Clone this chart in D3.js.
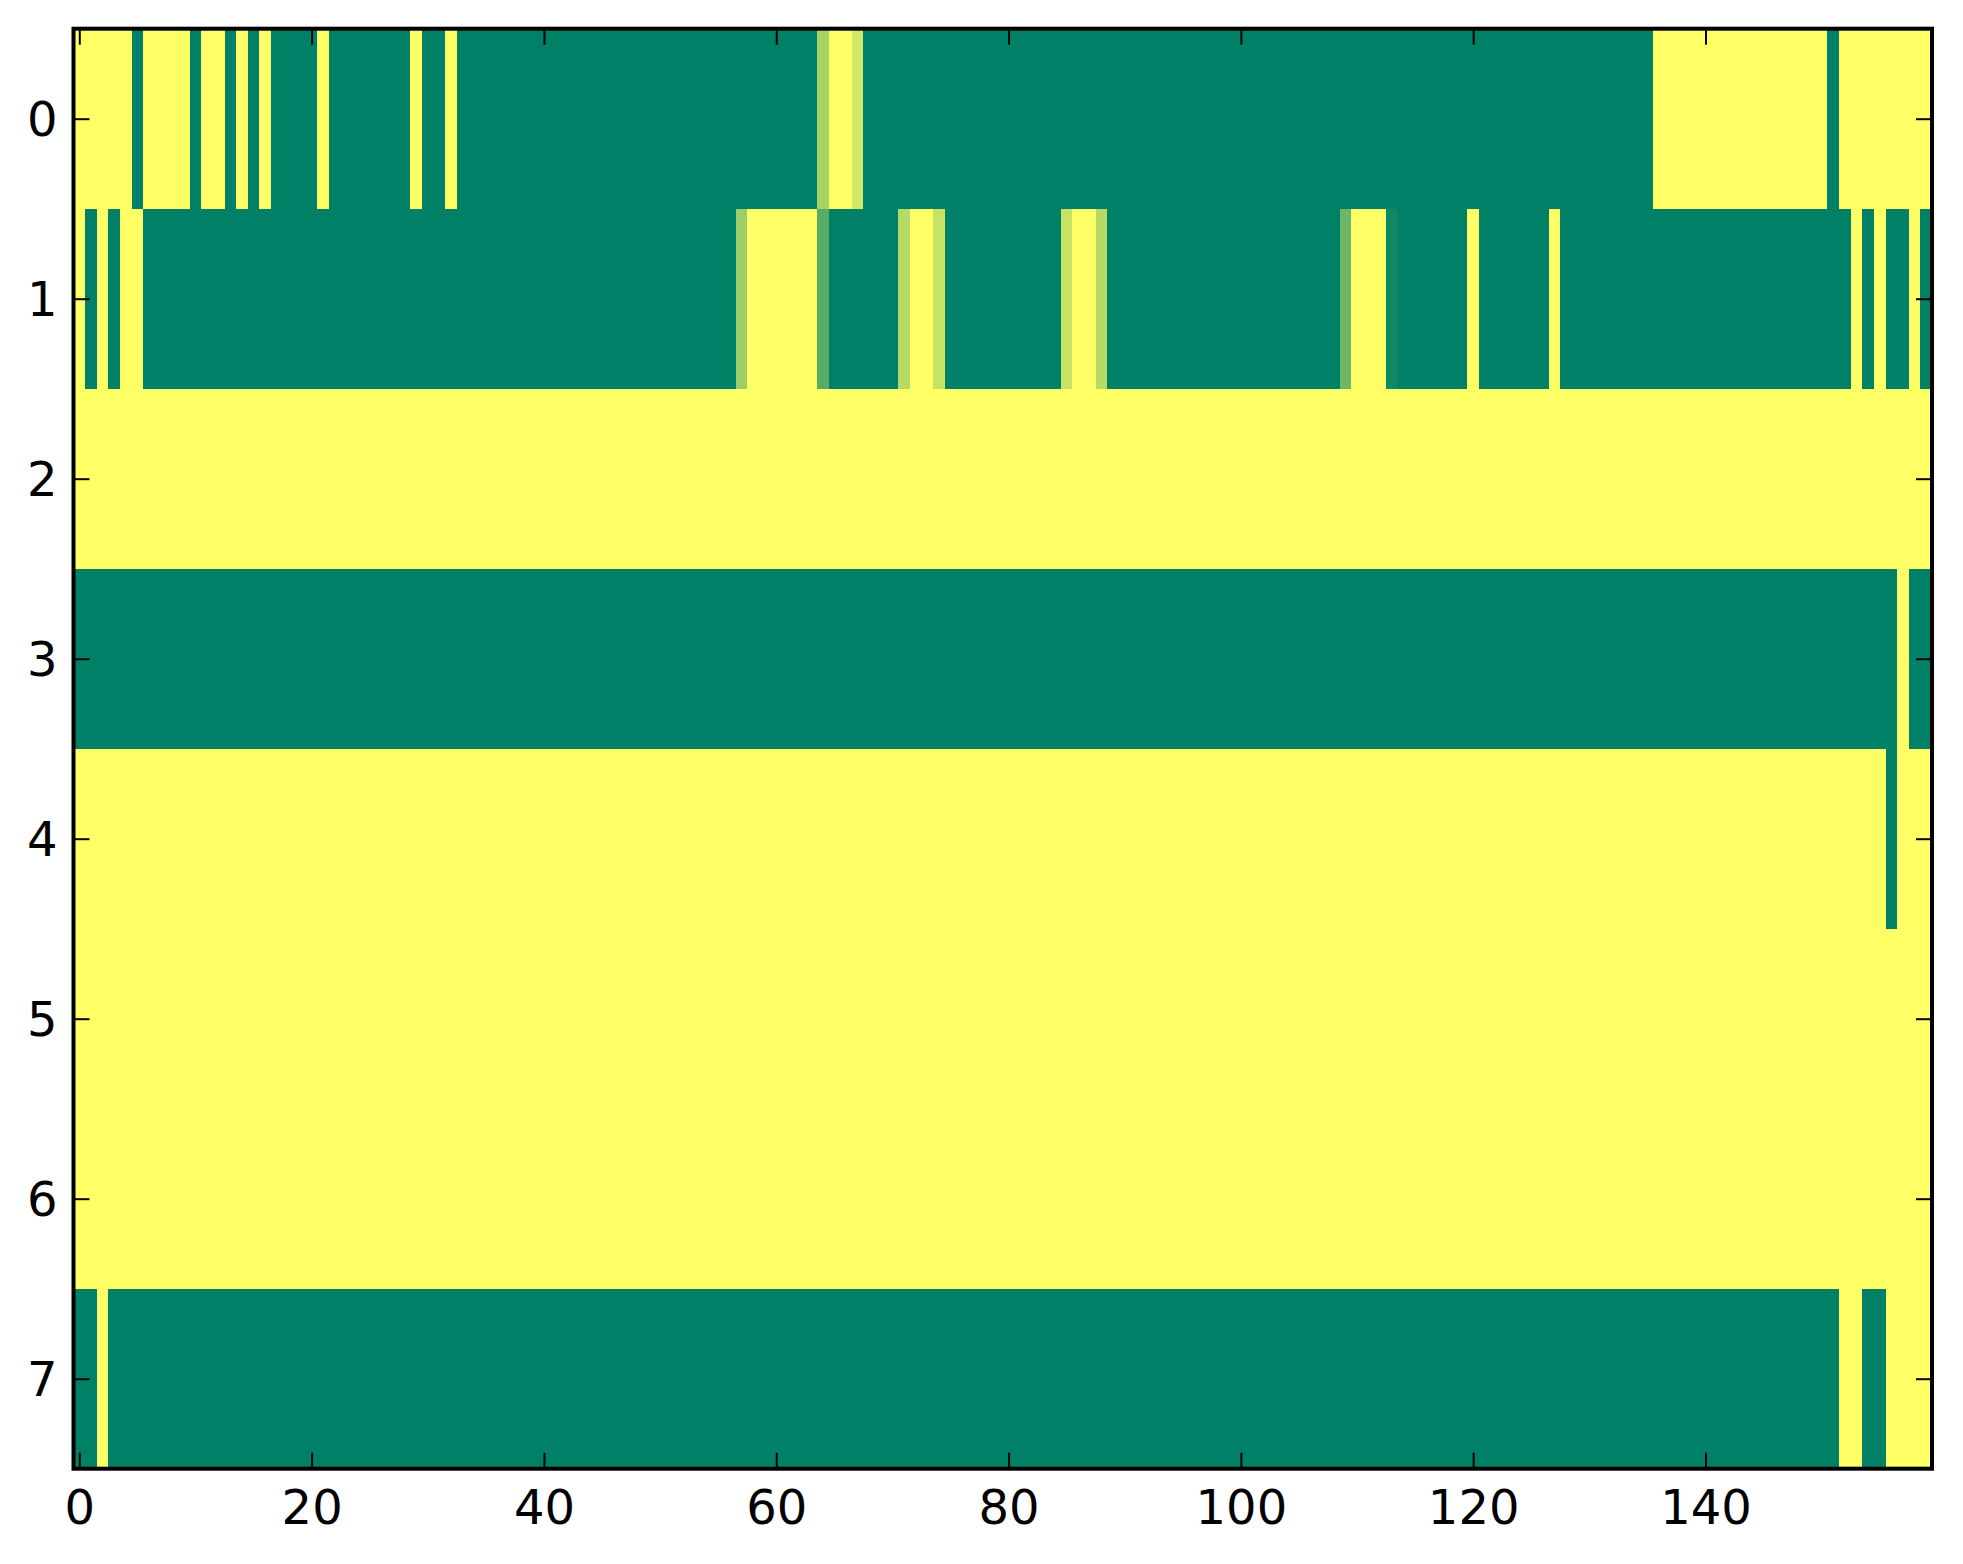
<!DOCTYPE html>
<html>
<head>
<meta charset="utf-8">
<script src="https://cdn.jsdelivr.net/npm/d3@7"></script>
<style>
  html, body { margin: 0; padding: 0; background: #fff; }
  svg { display: block; }
  .tick text { font-family: "DejaVu Sans", sans-serif; font-size: 48px; fill: #000; }
</style>
</head>
<body>
<svg id="chart" width="1963" height="1564"></svg>
<script>
// valores (0 = verde, 1 = amarillo), 160 columnas por fila
var fila0 = [
  1,1,1,1,1,0,1,1,1,1,0,1,1,0,1,0,1,0,0,0,
  0,1,0,0,0,0,0,0,0,1,0,0,1,0,0,0,0,0,0,0,
  0,0,0,0,0,0,0,0,0,0,0,0,0,0,0,0,0,0,0,0,
  0,0,0,0,0.66,1,1,0.83,0,0,0,0,0,0,0,0,0,0,0,0,
  0,0,0,0,0,0,0,0,0,0,0,0,0,0,0,0,0,0,0,0,
  0,0,0,0,0,0,0,0,0,0,0,0,0,0,0,0,0,0,0,0,
  0,0,0,0,0,0,0,0,0,0,0,0,0,0,0,0,1,1,1,1,
  1,1,1,1,1,1,1,1,1,1,1,0,1,1,1,1,1,1,1,1
];
var fila1 = [
  1,0,1,0,1,1,0,0,0,0,0,0,0,0,0,0,0,0,0,0,
  0,0,0,0,0,0,0,0,0,0,0,0,0,0,0,0,0,0,0,0,
  0,0,0,0,0,0,0,0,0,0,0,0,0,0,0,0,0,0.61,1,1,
  1,1,1,1,0.35,0,0,0,0,0,0,0.71,1,1,0.78,0,0,0,0,0,
  0,0,0,0,0,0.78,1,1,0.71,0,0,0,0,0,0,0,0,0,0,0,
  0,0,0,0,0,0,0,0,0,0.43,1,1,1,0.06,0,0,0,0,0,0,
  1,0,0,0,0,0,0,1,0,0,0,0,0,0,0,0,0,0,0,0,
  0,0,0,0,0,0,0,0,0,0,0,0,0,1,0,1,0,0,1,0
];
var fila2 = [
  1,1,1,1,1,1,1,1,1,1,1,1,1,1,1,1,1,1,1,1,
  1,1,1,1,1,1,1,1,1,1,1,1,1,1,1,1,1,1,1,1,
  1,1,1,1,1,1,1,1,1,1,1,1,1,1,1,1,1,1,1,1,
  1,1,1,1,1,1,1,1,1,1,1,1,1,1,1,1,1,1,1,1,
  1,1,1,1,1,1,1,1,1,1,1,1,1,1,1,1,1,1,1,1,
  1,1,1,1,1,1,1,1,1,1,1,1,1,1,1,1,1,1,1,1,
  1,1,1,1,1,1,1,1,1,1,1,1,1,1,1,1,1,1,1,1,
  1,1,1,1,1,1,1,1,1,1,1,1,1,1,1,1,1,1,1,1
];
var fila3 = [
  0,0,0,0,0,0,0,0,0,0,0,0,0,0,0,0,0,0,0,0,
  0,0,0,0,0,0,0,0,0,0,0,0,0,0,0,0,0,0,0,0,
  0,0,0,0,0,0,0,0,0,0,0,0,0,0,0,0,0,0,0,0,
  0,0,0,0,0,0,0,0,0,0,0,0,0,0,0,0,0,0,0,0,
  0,0,0,0,0,0,0,0,0,0,0,0,0,0,0,0,0,0,0,0,
  0,0,0,0,0,0,0,0,0,0,0,0,0,0,0,0,0,0,0,0,
  0,0,0,0,0,0,0,0,0,0,0,0,0,0,0,0,0,0,0,0,
  0,0,0,0,0,0,0,0,0,0,0,0,0,0,0,0,0,1,0,0
];
var fila4 = [
  1,1,1,1,1,1,1,1,1,1,1,1,1,1,1,1,1,1,1,1,
  1,1,1,1,1,1,1,1,1,1,1,1,1,1,1,1,1,1,1,1,
  1,1,1,1,1,1,1,1,1,1,1,1,1,1,1,1,1,1,1,1,
  1,1,1,1,1,1,1,1,1,1,1,1,1,1,1,1,1,1,1,1,
  1,1,1,1,1,1,1,1,1,1,1,1,1,1,1,1,1,1,1,1,
  1,1,1,1,1,1,1,1,1,1,1,1,1,1,1,1,1,1,1,1,
  1,1,1,1,1,1,1,1,1,1,1,1,1,1,1,1,1,1,1,1,
  1,1,1,1,1,1,1,1,1,1,1,1,1,1,1,1,0,1,1,1
];
var fila5 = [
  1,1,1,1,1,1,1,1,1,1,1,1,1,1,1,1,1,1,1,1,
  1,1,1,1,1,1,1,1,1,1,1,1,1,1,1,1,1,1,1,1,
  1,1,1,1,1,1,1,1,1,1,1,1,1,1,1,1,1,1,1,1,
  1,1,1,1,1,1,1,1,1,1,1,1,1,1,1,1,1,1,1,1,
  1,1,1,1,1,1,1,1,1,1,1,1,1,1,1,1,1,1,1,1,
  1,1,1,1,1,1,1,1,1,1,1,1,1,1,1,1,1,1,1,1,
  1,1,1,1,1,1,1,1,1,1,1,1,1,1,1,1,1,1,1,1,
  1,1,1,1,1,1,1,1,1,1,1,1,1,1,1,1,1,1,1,1
];
var fila6 = [
  1,1,1,1,1,1,1,1,1,1,1,1,1,1,1,1,1,1,1,1,
  1,1,1,1,1,1,1,1,1,1,1,1,1,1,1,1,1,1,1,1,
  1,1,1,1,1,1,1,1,1,1,1,1,1,1,1,1,1,1,1,1,
  1,1,1,1,1,1,1,1,1,1,1,1,1,1,1,1,1,1,1,1,
  1,1,1,1,1,1,1,1,1,1,1,1,1,1,1,1,1,1,1,1,
  1,1,1,1,1,1,1,1,1,1,1,1,1,1,1,1,1,1,1,1,
  1,1,1,1,1,1,1,1,1,1,1,1,1,1,1,1,1,1,1,1,
  1,1,1,1,1,1,1,1,1,1,1,1,1,1,1,1,1,1,1,1
];
var fila7 = [
  0,0,1,0,0,0,0,0,0,0,0,0,0,0,0,0,0,0,0,0,
  0,0,0,0,0,0,0,0,0,0,0,0,0,0,0,0,0,0,0,0,
  0,0,0,0,0,0,0,0,0,0,0,0,0,0,0,0,0,0,0,0,
  0,0,0,0,0,0,0,0,0,0,0,0,0,0,0,0,0,0,0,0,
  0,0,0,0,0,0,0,0,0,0,0,0,0,0,0,0,0,0,0,0,
  0,0,0,0,0,0,0,0,0,0,0,0,0,0,0,0,0,0,0,0,
  0,0,0,0,0,0,0,0,0,0,0,0,0,0,0,0,0,0,0,0,
  0,0,0,0,0,0,0,0,0,0,0,0,1,1,0,0,1,1,1,1
];
var filas = [fila0, fila1, fila2, fila3, fila4, fila5, fila6, fila7];

// etiquetas de los ejes
var ticksX = [0, 20, 40, 60, 80, 100, 120, 140];
var ticksY = [0, 1, 2, 3, 4, 5, 6, 7];

var izquierda = 73.5, derecha = 1932, arriba = 28.7, abajo = 1468.7;
var numColumnas = fila0.length;

var x = d3.scaleLinear().domain([-0.5, numColumnas - 0.5]).range([izquierda, derecha]);
var y = d3.scaleLinear().domain([-0.5, filas.length - 0.5]).range([arriba, abajo]);
// mapa de color "summer" de matplotlib
var color = d3.scaleLinear().domain([0, 1]).range(["#008066", "#ffff66"]).interpolate(d3.interpolateRgb);

var svg = d3.select("#chart");

// celdas del mapa de calor
var celdas = [];
filas.forEach(function (fila, i) {
    fila.forEach(function (v, j) {
        celdas.push({ fila: i, col: j, valor: v });
    });
});

svg.append("g")
    .attr("shape-rendering", "crispEdges")
    .selectAll("rect")
    .data(celdas)
    .join("rect")
    .attr("x", function (d) { return x(d.col - 0.5); })
    .attr("y", function (d) { return y(d.fila - 0.5); })
    .attr("width", function (d) { return x(d.col + 0.5) - x(d.col - 0.5) + 0.6; })
    .attr("height", function (d) { return y(d.fila + 0.5) - y(d.fila - 0.5) + 0.6; })
    .attr("fill", function (d) { return color(d.valor); });

// ejes con marcas hacia dentro en los cuatro lados
function estiloEje(g) {
    g.select(".domain").remove();
    g.selectAll(".tick line").attr("stroke", "#000").attr("stroke-width", 2);
}

svg.append("g")
    .attr("transform", "translate(0," + abajo + ")")
    .call(d3.axisBottom(x).tickValues(ticksX).tickSizeInner(-16).tickSizeOuter(0).tickPadding(21))
    .call(estiloEje);

svg.append("g")
    .attr("transform", "translate(0," + arriba + ")")
    .call(d3.axisTop(x).tickValues(ticksX).tickSizeInner(-16).tickSizeOuter(0).tickFormat(""))
    .call(estiloEje);

svg.append("g")
    .attr("transform", "translate(" + izquierda + ",0)")
    .call(d3.axisLeft(y).tickValues(ticksY).tickSizeInner(-16).tickSizeOuter(0).tickPadding(16))
    .call(estiloEje)
    .selectAll(".tick text").attr("dy", "0.36em");

svg.append("g")
    .attr("transform", "translate(" + derecha + ",0)")
    .call(d3.axisRight(y).tickValues(ticksY).tickSizeInner(-16).tickSizeOuter(0).tickFormat(""))
    .call(estiloEje);

svg.selectAll(".tick text").attr("font-family", null).attr("font-size", null);

// marco
svg.append("rect")
    .attr("x", izquierda)
    .attr("y", arriba)
    .attr("width", derecha - izquierda)
    .attr("height", abajo - arriba)
    .attr("fill", "none")
    .attr("stroke", "#000")
    .attr("stroke-width", 4);
</script>
</body>
</html>
